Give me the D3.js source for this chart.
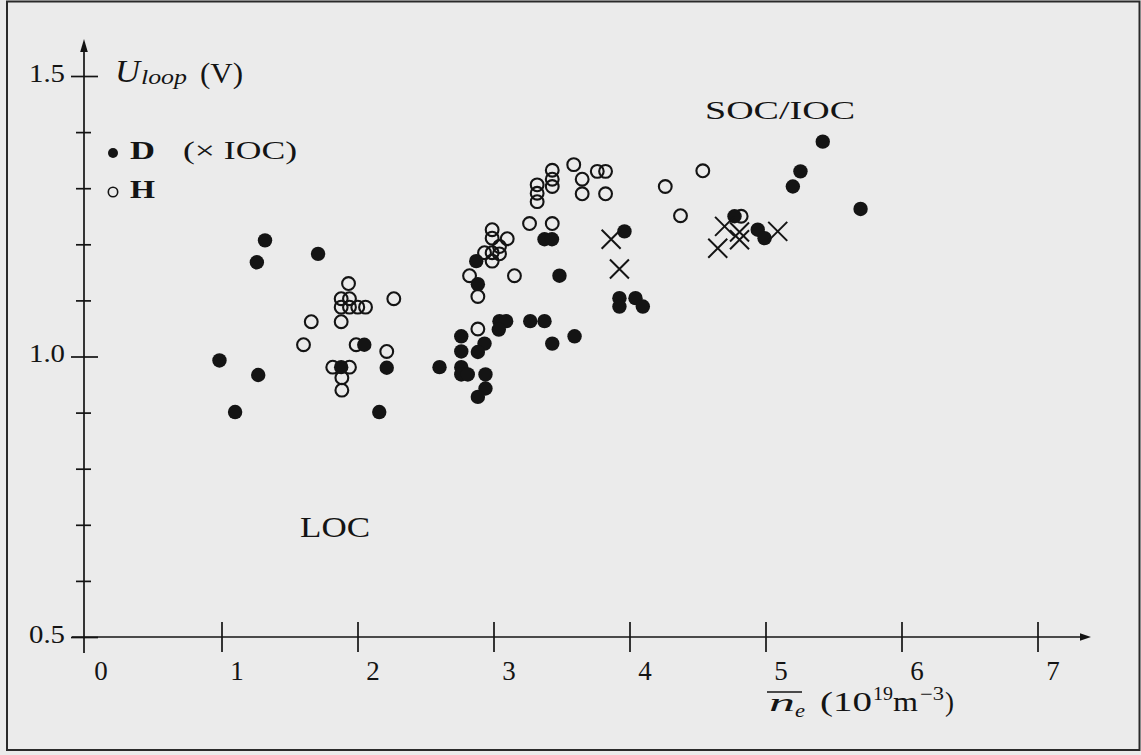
<!DOCTYPE html>
<html>
<head>
<meta charset="utf-8">
<script src="https://cdn.jsdelivr.net/npm/d3@7"></script>
<style>
  html, body { margin: 0; padding: 0; background: #ebebeb; }
  svg { display: block; }
</style>
</head>
<body>
<script>
// values: [n_e (1e19 m^-3), U_loop (V)]
const deuterium = [
  [1.32, 1.207], [1.26, 1.168], [1.71, 1.183], [0.985, 0.993], [1.27, 0.967],
  [1.10, 0.901], [2.16, 0.901], [2.05, 1.021], [1.88, 0.981], [2.215, 0.980],
  [3.375, 1.209], [3.43, 1.209], [2.873, 1.170], [2.885, 1.129], [3.485, 1.144],
  [3.963, 1.223], [3.926, 1.104], [3.926, 1.089], [3.044, 1.063], [3.093, 1.063],
  [3.039, 1.048], [3.27, 1.063], [3.375, 1.063], [3.596, 1.036], [3.432, 1.023],
  [2.763, 1.036], [2.934, 1.023], [2.763, 1.009], [2.885, 1.008], [2.603, 0.981],
  [2.763, 0.981], [2.763, 0.968], [2.811, 0.968], [2.941, 0.968], [2.941, 0.943],
  [2.885, 0.928], [5.421, 1.383], [5.257, 1.330], [5.201, 1.303], [5.699, 1.263],
  [4.772, 1.250], [4.943, 1.226], [4.993, 1.211], [4.044, 1.104], [4.098, 1.089]
];

const hydrogen = [
  [1.934, 1.130], [2.267, 1.103], [1.880, 1.103], [1.941, 1.103], [1.880, 1.088],
  [1.941, 1.088], [2.002, 1.088], [2.059, 1.088], [1.660, 1.062], [1.880, 1.062],
  [1.603, 1.021], [1.990, 1.021], [1.818, 0.981], [1.941, 0.981], [1.885, 0.962],
  [1.885, 0.940], [2.215, 1.009], [3.590, 1.342], [3.652, 1.316], [3.652, 1.290],
  [3.763, 1.330], [3.824, 1.330], [3.824, 1.290], [3.432, 1.332], [3.432, 1.316],
  [3.432, 1.303], [3.321, 1.306], [3.321, 1.291], [3.321, 1.276], [3.265, 1.237],
  [3.432, 1.237], [2.990, 1.226], [2.990, 1.211], [3.101, 1.210], [3.044, 1.196],
  [2.934, 1.185], [2.990, 1.185], [3.044, 1.183], [2.990, 1.170], [2.824, 1.144],
  [3.154, 1.144], [2.885, 1.107], [2.885, 1.049], [4.539, 1.331], [4.263, 1.303],
  [4.375, 1.251], [4.821, 1.250]
];

const iocShots = [
  [3.865, 1.209], [3.926, 1.156], [4.699, 1.232], [4.809, 1.222],
  [4.809, 1.208], [4.649, 1.193], [5.090, 1.223]
];

const xTickValues = [0, 1, 2, 3, 4, 5, 6, 7];
const yTickValues = [0.5, 0.6, 0.7, 0.8, 0.9, 1.0, 1.1, 1.2, 1.3, 1.4, 1.5];
const yTickLabels = ['0.5', '1.0', '1.5'];

const W = 1141, H = 755;
const ink = '#141414';
const serif = '"Liberation Serif", "DejaVu Serif", serif';

const svg = d3.select('body').append('svg')
  .attr('width', W)
  .attr('height', H);

svg.append('rect')
  .attr('width', W).attr('height', H)
  .attr('fill', '#ebebeb');

// page frame of the scan
svg.append('rect')
  .attr('x', 7).attr('y', 1.5)
  .attr('width', 1132.5).attr('height', 748.5)
  .attr('fill', 'none')
  .attr('stroke', '#2a2a2a')
  .attr('stroke-width', 2);

const x = d3.scaleLinear().domain([0, 7]).range([85.5, 1037.5]);
const y = d3.scaleLinear().domain([0.5, 1.5]).range([637, 76]);

// axes lines with arrows
const axisG = svg.append('g').attr('stroke', ink).attr('stroke-width', 1.7);
axisG.append('line')
  .attr('x1', 72).attr('x2', 1086)
  .attr('y1', y(0.5)).attr('y2', y(0.5));
axisG.append('line')
  .attr('x1', x(0) - 1.5).attr('x2', x(0) - 1.5)
  .attr('y1', 653).attr('y2', 46);
svg.append('path')
  .attr('d', `M1091,${y(0.5)} L1080,${y(0.5) - 3.8} L1080,${y(0.5) + 3.8} Z`)
  .attr('fill', ink);
svg.append('path')
  .attr('d', `M${x(0) - 1.5},39 L${x(0) - 5.3},52 L${x(0) + 2.3},52 Z`)
  .attr('fill', ink);

// x axis
const gx = svg.append('g')
  .attr('transform', `translate(0,${y(0.5)})`)
  .call(d3.axisBottom(x).tickValues(xTickValues).tickSize(15).tickFormat(d3.format('d')));
gx.attr('font-family', serif).attr('font-size', 27);
gx.select('.domain').remove();
gx.selectAll('.tick line')
  .attr('y1', -15).attr('y2', 15)
  .attr('stroke', ink).attr('stroke-width', 1.7)
  .attr('opacity', d => d === 0 ? 0 : 1);
gx.selectAll('.tick text')
  .attr('x', 15).attr('y', 43).attr('dy', null)
  .attr('fill', ink);

// y axis
const gy = svg.append('g')
  .attr('transform', `translate(${x(0) - 1.5},0)`)
  .call(d3.axisLeft(y).tickValues(yTickValues).tickSize(8)
    .tickFormat(d => yTickLabels.includes(d.toFixed(1)) ? d.toFixed(1) : ''));
gy.attr('font-family', serif).attr('font-size', 25);
gy.select('.domain').remove();
gy.selectAll('.tick line')
  .attr('x1', d => yTickLabels.includes(d.toFixed(1)) ? -13 : -8)
  .attr('x2', d => yTickLabels.includes(d.toFixed(1)) ? 14 : 7)
  .attr('stroke', ink).attr('stroke-width', 1.7);
gy.selectAll('.tick text')
  .attr('x', -19).attr('y', 5).attr('dy', null)
  .attr('fill', ink)
  .attr('textLength', 36)
  .attr('lengthAdjust', 'spacingAndGlyphs');

// markers
svg.append('g').selectAll('circle')
  .data(hydrogen)
  .join('circle')
  .attr('cx', d => x(d[0]))
  .attr('cy', d => y(d[1]))
  .attr('r', 6.4)
  .attr('fill', 'none')
  .attr('stroke', ink)
  .attr('stroke-width', 2.1);

svg.append('g').selectAll('circle')
  .data(deuterium)
  .join('circle')
  .attr('cx', d => x(d[0]))
  .attr('cy', d => y(d[1]))
  .attr('r', 7.2)
  .attr('fill', ink);

const c = 9.5;
svg.append('g').selectAll('path')
  .data(iocShots)
  .join('path')
  .attr('d', d => {
    const px = x(d[0]), py = y(d[1]);
    return `M${px - c},${py - c}L${px + c},${py + c}M${px - c},${py + c}L${px + c},${py - c}`;
  })
  .attr('stroke', ink)
  .attr('stroke-width', 2)
  .attr('fill', 'none');

// labels
function label(str, px, py, size, opts = {}) {
  const t = svg.append('text')
    .attr('x', px).attr('y', py)
    .attr('font-family', serif)
    .attr('font-size', size)
    .attr('fill', ink)
    .attr('font-style', opts.italic ? 'italic' : null)
    .attr('font-weight', opts.bold ? 'bold' : null)
    .attr('text-anchor', opts.anchor || 'start')
    .text(str);
  if (opts.len) t.attr('textLength', opts.len).attr('lengthAdjust', 'spacingAndGlyphs');
  return t;
}

// y title
label('U', 115, 82, 31, {italic: true, len: 25});
label('loop', 141, 84, 20, {italic: true, len: 46});
label('(V)', 200, 83, 29, {len: 43});

// legend
svg.append('circle').attr('cx', 113).attr('cy', 153).attr('r', 5).attr('fill', ink);
label('D', 130, 159, 25, {bold: true, len: 25});
label('(\u00d7 IOC)', 183, 159, 25, {len: 114});
svg.append('circle').attr('cx', 113).attr('cy', 192).attr('r', 4.7)
  .attr('fill', 'none').attr('stroke', ink).attr('stroke-width', 1.6);
label('H', 130, 198, 25, {bold: true, len: 25});

// regime labels
label('SOC/IOC', 705, 119, 26, {len: 150});
label('LOC', 300, 537, 29, {len: 70});

// x title
svg.append('line')
  .attr('x1', 767).attr('x2', 802)
  .attr('y1', 692).attr('y2', 692)
  .attr('stroke', ink).attr('stroke-width', 1.6);
label('n', 769, 711, 25, {italic: true, len: 26});
label('e', 795, 717, 19, {italic: true, len: 10});
label('(10', 820, 711, 27, {len: 52});
label('19', 873, 700, 18, {len: 20});
label('m', 893, 711, 27, {len: 25});
label('\u22123', 920, 700, 18, {len: 24});
label(')', 945, 711, 27, {len: 9});
</script>
</body>
</html>
